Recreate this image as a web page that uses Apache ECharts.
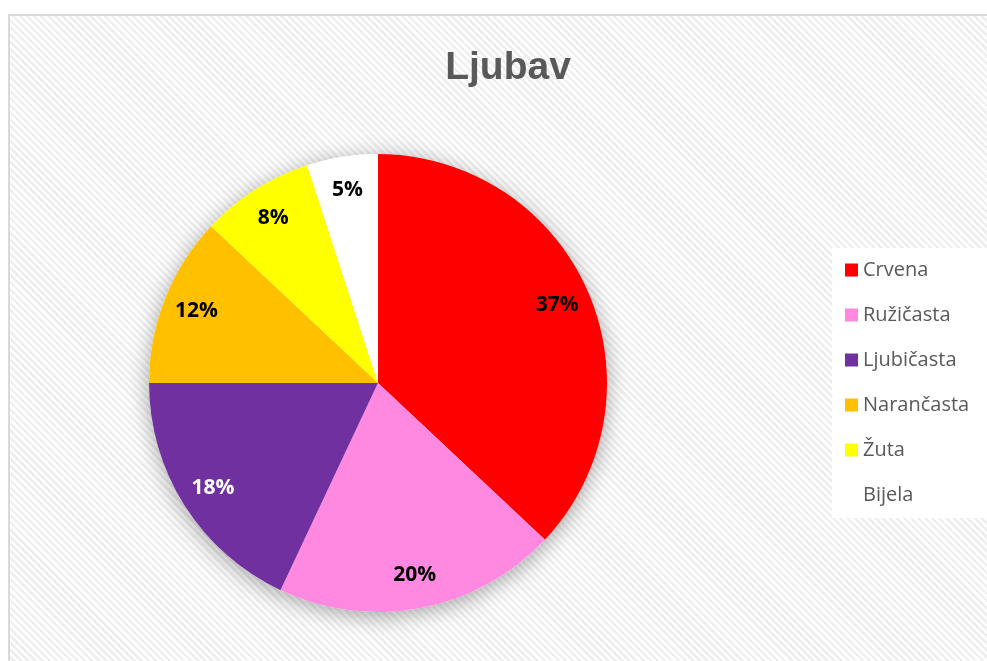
<!DOCTYPE html>
<html>
<head>
<meta charset="utf-8">
<script src="https://cdn.jsdelivr.net/npm/echarts@6/dist/echarts.min.js"></script>
<style>
  html, body { margin: 0; padding: 0; background: #fff; overflow: hidden; }
  #frame {
    position: absolute; left: 8px; top: 14px; width: 1000px; height: 660px;
    border: 2px solid #d9d9d9;
    background: repeating-linear-gradient(45deg, #ffffff 0px, #ffffff 2.5px, #efefef 2.5px, #efefef 5px);
  }
  #chart { position: absolute; left: 0; top: 0; width: 987px; height: 661px; }
</style>
</head>
<body>
<div id="frame"></div>
<div id="chart"></div>
<script>
// Ljubav - colour shares
const categories = ['Crvena', 'Ružičasta', 'Ljubičasta', 'Narančasta', 'Žuta', 'Bijela']
const values = [37, 20, 18, 12, 8, 5]
const colors = ['#ff0000', '#ff88e0', '#7030a0', '#ffc000', '#ffff00', '#ffffff']
const labelColors = ['#000', '#000', '#fff', '#000', '#000', '#000']

const center = [378, 383]
const radius = 229

const chart = echarts.init(document.getElementById('chart'))

const pieData = categories.map((name, i) => ({
  name,
  value: values[i],
  itemStyle: { color: colors[i] }
}))

const labelData = categories.map((name, i) => ({
  name,
  value: values[i],
  label: { color: labelColors[i] }
}))

chart.setOption({
  backgroundColor: 'transparent',
  title: {
    text: 'Ljubav',
    left: 503,
    top: 44,
    textAlign: 'center',
    textStyle: {
      fontFamily: 'Liberation Sans',
      fontWeight: 'bold',
      fontSize: 39,
      color: '#595959'
    }
  },
  legend: {
    data: categories,
    orient: 'vertical',
    left: 832,
    top: 248,
    padding: [12, 40, 13, 13],
    backgroundColor: '#ffffff',
    icon: 'rect',
    itemWidth: 13,
    itemHeight: 13,
    itemGap: 25,
    itemTextGap: 6,
    selectedMode: false,
    textStyle: {
      fontFamily: 'Open Sans',
      fontSize: 20,
      lineHeight: 20,
      color: '#595959'
    }
  },
  series: [
    {
      // shadow disc under the pie
      type: 'pie',
      silent: true,
      center,
      radius: [0, radius],
      z: 1,
      label: { show: false },
      labelLine: { show: false },
      data: [{ value: 1, name: '_base' }],
      itemStyle: {
        color: '#ffffff',
        shadowBlur: 22,
        shadowOffsetY: 4,
        shadowColor: 'rgba(0,0,0,0.35)'
      }
    },
    {
      type: 'pie',
      center,
      radius: [0, radius],
      startAngle: 90,
      clockwise: true,
      z: 2,
      silent: true,
      label: { show: false },
      labelLine: { show: false },
      data: pieData
    },
    {
      // transparent ring carrying the labels
      type: 'pie',
      center,
      radius: [radius * 0.68, radius],
      startAngle: 90,
      clockwise: true,
      z: 3,
      silent: true,
      itemStyle: { color: 'transparent' },
      labelLine: { show: false },
      label: {
        show: true,
        position: 'inside',
        formatter: '{d}%',
        fontFamily: 'Open Sans',
        fontWeight: 'bold',
        fontSize: 21
      },
      data: labelData
    }
  ]
})

window.addEventListener('resize', () => chart.resize())
</script>
</body>
</html>
